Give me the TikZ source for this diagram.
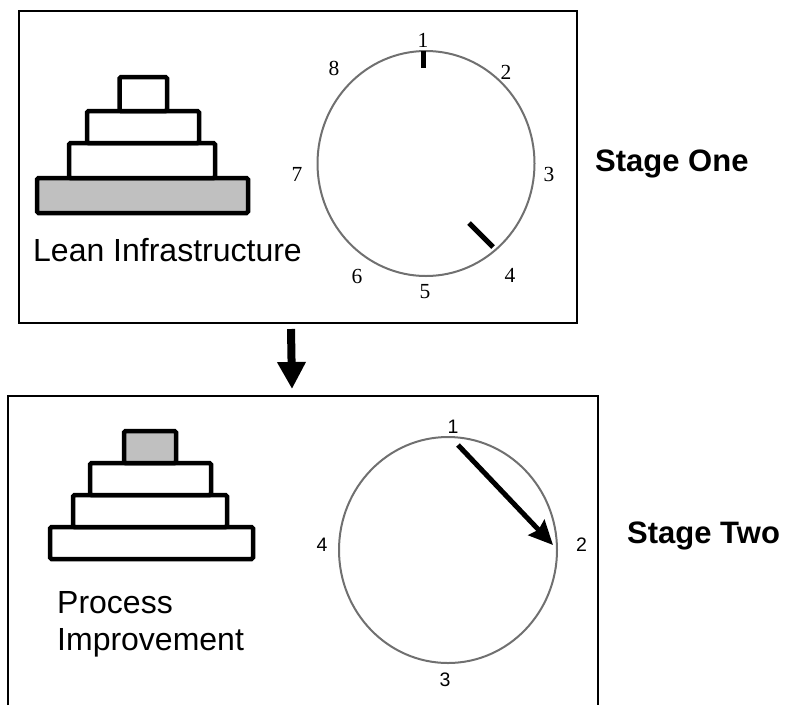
\documentclass[tikz,border=0pt]{standalone}
\usepackage{fontspec}
\setmainfont{Liberation Serif}
\newfontfamily\lblfont{Liberation Sans}
\newfontfamily\digfont{Liberation Sans}
\usetikzlibrary{arrows.meta,shapes.geometric}
\definecolor{ringgray}{HTML}{707070}
\definecolor{blockgray}{HTML}{C0C0C0}
\tikzset{
  frame/.style={draw=black, line width=2.5pt},
  block/.style={draw=black, line width=4.5pt, rounded corners=1.5pt, fill=white},
  graybock/.style={block, fill=blockgray},
  ring/.style={draw=ringgray, line width=2pt, ellipse, inner sep=0pt},
  tick/.style={line width=5pt, black},
  numserif/.style={inner sep=0pt, font=\fontsize{21.5}{25}\selectfont},
  numsans/.style={inner sep=0pt, font=\digfont\fontsize{19.5}{23}\selectfont},
  lbl/.style={inner sep=0pt, anchor=base west, font=\lblfont\fontsize{32}{38}\selectfont},
  stage/.style={inner sep=0pt, anchor=base west, font=\lblfont\bfseries\fontsize{31}{37}\selectfont},
  bigarrow/.style={line width=8pt, -{Triangle[length=27pt,width=27pt]}},
  hand/.style={line width=5pt, -{Stealth[length=24pt,width=22pt,inset=3pt]}}
}
\begin{document}
\begin{tikzpicture}[x=1pt,y=-1pt]
\useasboundingbox (0,0) rectangle (789,705);
% stage one frame
\draw[frame] (19,11) rectangle (577,323);
% stage two frame (cut off at bottom)
\draw[frame] (8,705) -- (8,396) -- (598,396) -- (598,705);

% pyramid one
\draw[graybock] (37,178) rectangle (248,213);
\draw[block] (69,143) rectangle (215,178);
\draw[block] (87,111) rectangle (199,143);
\draw[block] (119.5,77) rectangle (167,111);
\node[lbl] (lean) at (33,261) {Lean Infrastructure};

% clock one
\node[ring, minimum width=217pt, minimum height=225pt] (c1) at (426,163.5) {};
\draw[tick] (423,51) -- (423,68);
\draw[tick] (469,223) -- (493,247);
\node[numserif] (n1) at (423,40.5) {1};
\node[numserif] (n2) at (506,72) {2};
\node[numserif] (n3) at (549,174) {3};
\node[numserif] (n4) at (510,275) {4};
\node[numserif] (n5) at (425,292) {5};
\node[numserif] (n6) at (357,276) {6};
\node[numserif] (n7) at (297,174) {7};
\node[numserif] (n8) at (334,68.5) {8};
\node[stage] (s1) at (595,171) {Stage One};

% transition arrow
\coordinate (aFrom) at (291,329);
\coordinate (aTo) at (292,389);
\draw[bigarrow] (aFrom) -- (aTo);

% pyramid two
\draw[block] (50,527) rectangle (253,559);
\draw[block] (73,495) rectangle (227,527);
\draw[block] (90,463) rectangle (211,495);
\draw[graybock] (124,431) rectangle (176,463);
\node[lbl] (proc) at (57,613) {Process};
\node[lbl] (impr) at (57,650) {Improvement};

% clock two
\node[ring, minimum width=218pt, minimum height=226pt] (c2) at (448,550) {};
\node[numsans] (m1) at (453,427) {1};
\node[numsans] (m2) at (581.5,545) {2};
\node[numsans] (m3) at (445,680) {3};
\node[numsans] (m4) at (322,545) {4};
\coordinate (hFrom) at (458,445);
\coordinate (hTo) at (553,545);
\draw[hand] (hFrom) -- (hTo);
\node[stage] (s2) at (627,543) {Stage Two};
\end{tikzpicture}
\end{document}
